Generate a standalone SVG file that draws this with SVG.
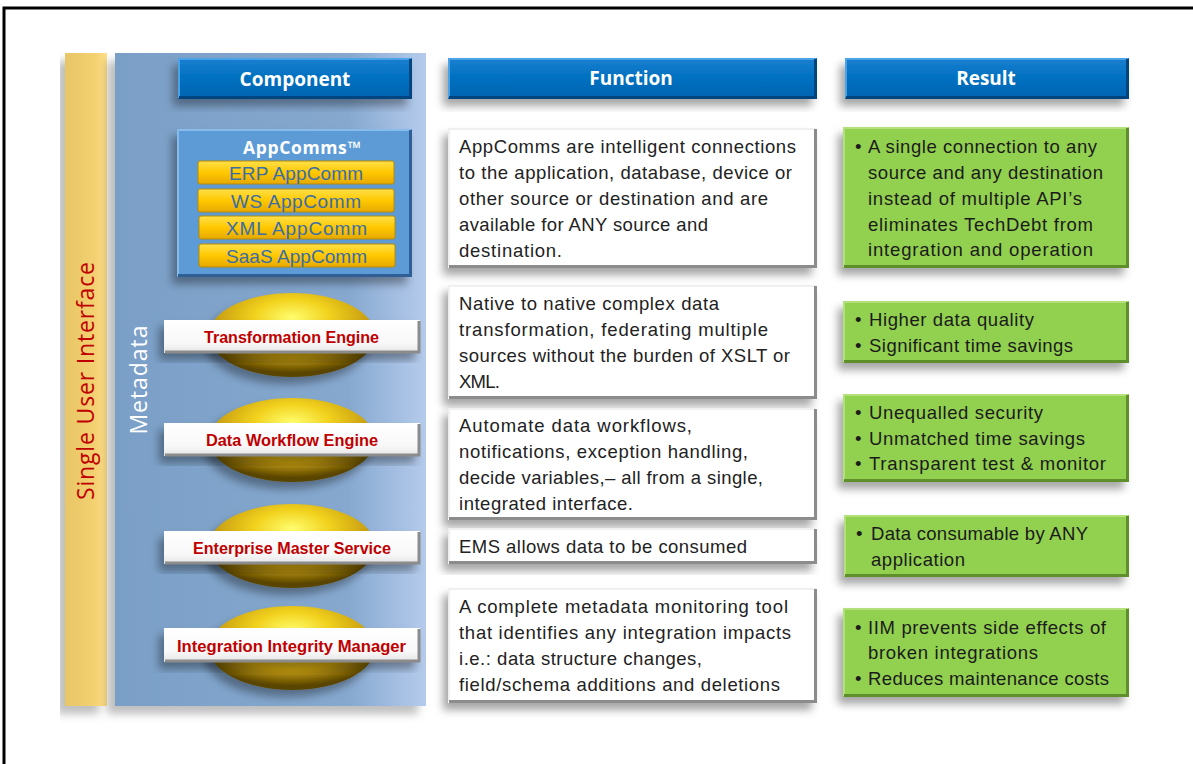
<svg xmlns="http://www.w3.org/2000/svg" width="1193" height="764" viewBox="0 0 1193 764">
<defs>
<filter id="sh" x="-20%" y="-20%" width="140%" height="150%">
<feDropShadow dx="-5" dy="7" stdDeviation="4" flood-color="#000" flood-opacity="0.35"/>
</filter>
<filter id="sh2" x="-10%" y="-10%" width="120%" height="120%">
<feDropShadow dx="-8" dy="8" stdDeviation="4" flood-color="#000" flood-opacity="0.25"/>
</filter>
<linearGradient id="gYel" x1="0" y1="0" x2="1" y2="0">
<stop offset="0" stop-color="#e8c566"/><stop offset="0.7" stop-color="#f3d070"/><stop offset="1" stop-color="#ffe08a"/>
</linearGradient>
<linearGradient id="gMeta" x1="0" y1="0" x2="1" y2="0">
<stop offset="0" stop-color="#7a9fc6"/><stop offset="0.75" stop-color="#86a8cf"/><stop offset="1" stop-color="#b5cbec"/>
</linearGradient>
<linearGradient id="gHead" x1="0" y1="0" x2="0" y2="1">
<stop offset="0" stop-color="#1a7fd0"/><stop offset="0.5" stop-color="#0070c0"/><stop offset="1" stop-color="#0064b0"/>
</linearGradient>
<linearGradient id="gBar" x1="0" y1="0" x2="0" y2="1">
<stop offset="0" stop-color="#ffe04a"/><stop offset="0.5" stop-color="#ffc800"/><stop offset="1" stop-color="#e6a800"/>
</linearGradient>
<linearGradient id="gLbl" x1="0" y1="0" x2="0" y2="1">
<stop offset="0" stop-color="#ffffff"/><stop offset="0.7" stop-color="#f8f8f8"/><stop offset="1" stop-color="#e4e4e4"/>
</linearGradient>
<radialGradient id="gDisc" cx="0.5" cy="0.3" r="0.65">
<stop offset="0" stop-color="#ffff70"/><stop offset="0.35" stop-color="#f2d21e"/><stop offset="0.7" stop-color="#c9a010"/><stop offset="1" stop-color="#5a4500"/>
</radialGradient>
<style>
.hdr{font-family:"Open Sans","Liberation Sans",sans-serif;font-weight:bold;font-size:19px;fill:#fff;text-anchor:middle}
.body{font-family:"Liberation Sans",Arial,sans-serif;font-size:18.5px;fill:#222}
.res{font-family:"Liberation Sans",Arial,sans-serif;font-size:18.5px;fill:#1b1b1b}
.lbl{font-family:"Liberation Sans",Arial,sans-serif;font-weight:bold;font-size:16px;fill:#c00000}
.ac{font-family:"Liberation Sans",Arial,sans-serif;font-size:19px;fill:#3a6ea8}
.white{fill:#fff;filter:url(#sh)}
.green{fill:#92d050;filter:url(#sh)}
.wtop{fill:none;stroke:#f0f0f0;stroke-width:2}
.wbot{fill:none;stroke:#8c8c8c;stroke-width:3}
.gtop{fill:none;stroke:#b4e07c;stroke-width:2}
.gbot{fill:none;stroke:#5f8f2a;stroke-width:3}
.htop{fill:none;stroke:#4aa3e6;stroke-width:2}
.hbot{fill:none;stroke:#00457f;stroke-width:3}
</style>
</defs>
<rect x="0" y="0" width="1193" height="764" fill="#fff"/>
<path d="M4,764 V8 H1193" fill="none" stroke="#000" stroke-width="3"/>

<g id="single-user-interface">
<rect x="65" y="53" width="42" height="653" fill="url(#gYel)" filter="url(#sh2)"/>
<text transform="translate(94,381) rotate(-90)" font-family="'Open Sans','Liberation Sans',sans-serif" font-size="23" fill="#c00000" text-anchor="middle" textLength="238">Single User Interface</text>
</g>

<g id="metadata">
<rect x="115" y="53" width="311" height="653" fill="url(#gMeta)" filter="url(#sh2)"/>
<text transform="translate(147,380) rotate(-90)" font-family="'Open Sans','Liberation Sans',sans-serif" font-size="23" fill="#fff" text-anchor="middle" textLength="109">Metadata</text>
</g>

<g id="hdr-component">
<rect x="178" y="58" width="234" height="41" fill="url(#gHead)" filter="url(#sh)"/>
<polyline class="htop" points="179,98 179,59 411,59"/><polyline class="hbot" points="179,97.5 410.5,97.5 410.5,59"/>
<text class="hdr" x="295" y="86">Component</text>
</g>
<g id="hdr-function">
<rect x="448" y="58" width="369" height="41" fill="url(#gHead)" filter="url(#sh)"/>
<polyline class="htop" points="449,98 449,59 816,59"/><polyline class="hbot" points="449,97.5 815.5,97.5 815.5,59"/>
<text class="hdr" x="631" y="85">Function</text>
</g>
<g id="hdr-result">
<rect x="845" y="58" width="284" height="41" fill="url(#gHead)" filter="url(#sh)"/>
<polyline class="htop" points="846,98 846,59 1128,59"/><polyline class="hbot" points="846,97.5 1127.5,97.5 1127.5,59"/>
<text class="hdr" x="986" y="85">Result</text>
</g>

<g id="appcomms">
<rect x="177" y="129" width="235" height="148" fill="#5b9bd5" filter="url(#sh)"/>
<polyline points="178,276 178,130 411,130" fill="none" stroke="#86bbec" stroke-width="2"/>
<polyline points="178,275.5 410.5,275.5 410.5,130" fill="none" stroke="#2f5f96" stroke-width="3"/>
<text x="243" y="154" font-family="'Open Sans','Liberation Sans',sans-serif" font-weight="bold" font-size="17.5" fill="#fff" textLength="118">AppComms™</text>
<g>
<rect x="198" y="161" width="196" height="23" rx="2" fill="url(#gBar)" stroke="#b88a00" stroke-width="1"/>
<text class="ac" x="229" y="179.5" textLength="134">ERP  AppComm</text>
<rect x="198" y="189" width="196" height="23" rx="2" fill="url(#gBar)" stroke="#b88a00" stroke-width="1"/>
<text class="ac" x="231" y="207.5" textLength="130">WS  AppComm</text>
<rect x="199" y="216" width="196" height="23" rx="2" fill="url(#gBar)" stroke="#b88a00" stroke-width="1"/>
<text class="ac" x="226" y="234.5" textLength="141">XML  AppComm</text>
<rect x="199" y="244" width="196" height="23" rx="2" fill="url(#gBar)" stroke="#b88a00" stroke-width="1"/>
<text class="ac" x="226" y="262.5" textLength="141">SaaS  AppComm</text>
</g>
</g>

<g id="transformation-engine">
<ellipse cx="292" cy="335" rx="83" ry="42" fill="url(#gDisc)" filter="url(#sh)"/>
<rect x="164" y="320" width="256" height="33" fill="url(#gLbl)" filter="url(#sh)"/>
<polyline class="wbot" points="165,352 419,352 419,321"/>
<text class="lbl" x="204" y="343" textLength="175" lengthAdjust="spacingAndGlyphs">Transformation Engine</text>
</g>
<g id="data-workflow-engine">
<ellipse cx="292" cy="440" rx="83" ry="42" fill="url(#gDisc)" filter="url(#sh)"/>
<rect x="164" y="423" width="256" height="33" fill="url(#gLbl)" filter="url(#sh)"/>
<polyline class="wbot" points="165,455 419,455 419,424"/>
<text class="lbl" x="206" y="446" textLength="172" lengthAdjust="spacingAndGlyphs">Data Workflow Engine</text>
</g>
<g id="enterprise-master-service">
<ellipse cx="292" cy="546" rx="83" ry="42" fill="url(#gDisc)" filter="url(#sh)"/>
<rect x="164" y="531" width="256" height="33" fill="url(#gLbl)" filter="url(#sh)"/>
<polyline class="wbot" points="165,563 419,563 419,532"/>
<text class="lbl" x="193" y="554" textLength="198" lengthAdjust="spacingAndGlyphs">Enterprise Master Service</text>
</g>
<g id="integration-integrity-manager">
<ellipse cx="292" cy="648" rx="83" ry="42" fill="url(#gDisc)" filter="url(#sh)"/>
<rect x="164" y="628" width="256" height="34" fill="url(#gLbl)" filter="url(#sh)"/>
<polyline class="wbot" points="165,661 419,661 419,629"/>
<text class="lbl" x="177" y="652" textLength="229" lengthAdjust="spacingAndGlyphs">Integration Integrity Manager</text>
</g>

<g id="fn-appcomms">
<rect class="white" x="448" y="128" width="369" height="140"/>
<polyline class="wtop" points="449,267 449,129 816,129"/><polyline class="wbot" points="449,266.5 815.5,266.5 815.5,129"/>
<text class="body" x="459" y="153" textLength="337">AppComms are intelligent  connections</text>
<text class="body" x="459" y="179" textLength="333">to the application, database, device or</text>
<text class="body" x="459" y="205" textLength="309">other source or destination and are</text>
<text class="body" x="459" y="231" textLength="249">available for ANY source and</text>
<text class="body" x="459" y="257" textLength="103">destination.</text>
</g>
<g id="fn-transformation">
<rect class="white" x="448" y="285" width="369" height="114"/>
<polyline class="wtop" points="449,398 449,286 816,286"/><polyline class="wbot" points="449,397.5 815.5,397.5 815.5,286"/>
<text class="body" x="459" y="310" textLength="260">Native to native complex data</text>
<text class="body" x="459" y="336" textLength="309">transformation, federating multiple</text>
<text class="body" x="459" y="362" textLength="331">sources without the  burden of XSLT or</text>
<text class="body" x="459" y="388" textLength="41">XML.</text>
</g>
<g id="fn-workflow">
<rect class="white" x="448" y="408" width="369" height="112"/>
<polyline class="wtop" points="449,519 449,409 816,409"/><polyline class="wbot" points="449,518.5 815.5,518.5 815.5,409"/>
<text class="body" x="459" y="432" textLength="233">Automate data workflows,</text>
<text class="body" x="459" y="458" textLength="289">notifications, exception  handling,</text>
<text class="body" x="459" y="484" textLength="304">decide variables,– all from a single,</text>
<text class="body" x="459" y="510" textLength="174">integrated interface.</text>
</g>
<g id="fn-ems">
<rect class="white" x="448" y="528" width="369" height="36"/>
<polyline class="wtop" points="449,563 449,529 816,529"/><polyline class="wbot" points="449,562.5 815.5,562.5 815.5,529"/>
<text class="body" x="459" y="553" textLength="288">EMS allows data to be consumed</text>
</g>
<g id="fn-iim">
<rect class="white" x="448" y="588" width="369" height="115"/>
<polyline class="wtop" points="449,702 449,589 816,589"/><polyline class="wbot" points="449,701.5 815.5,701.5 815.5,589"/>
<text class="body" x="459" y="613" textLength="329">A complete metadata monitoring tool</text>
<text class="body" x="459" y="639" textLength="332">that identifies  any integration impacts</text>
<text class="body" x="459" y="665" textLength="243">i.e.: data structure changes,</text>
<text class="body" x="459" y="691" textLength="321">field/schema additions and deletions</text>
</g>

<g id="res-appcomms">
<rect class="green" x="843" y="127" width="286" height="141"/>
<polyline class="gtop" points="844,267 844,128 1128,128"/><polyline class="gbot" points="844,266.5 1127.5,266.5 1127.5,128"/>
<text class="res" x="855" y="153">•</text>
<text class="res" x="868" y="153" textLength="229">A single connection to any</text>
<text class="res" x="868" y="179" textLength="235">source and any destination</text>
<text class="res" x="868" y="205" textLength="214">instead of multiple  API’s</text>
<text class="res" x="868" y="231" textLength="225">eliminates TechDebt from</text>
<text class="res" x="868" y="256" textLength="225">integration and operation</text>
</g>
<g id="res-transformation">
<rect class="green" x="843" y="301" width="286" height="62"/>
<polyline class="gtop" points="844,362 844,302 1128,302"/><polyline class="gbot" points="844,361.5 1127.5,361.5 1127.5,302"/>
<text class="res" x="855" y="326">•</text>
<text class="res" x="869" y="326" textLength="165">Higher data quality</text>
<text class="res" x="855" y="352">•</text>
<text class="res" x="869" y="352" textLength="204">Significant time savings</text>
</g>
<g id="res-workflow">
<rect class="green" x="843" y="394" width="286" height="88"/>
<polyline class="gtop" points="844,481 844,395 1128,395"/><polyline class="gbot" points="844,480.5 1127.5,480.5 1127.5,395"/>
<text class="res" x="855" y="419">•</text>
<text class="res" x="869" y="419" textLength="174">Unequalled  security</text>
<text class="res" x="855" y="445">•</text>
<text class="res" x="869" y="445" textLength="216">Unmatched time savings</text>
<text class="res" x="855" y="470">•</text>
<text class="res" x="869" y="470" textLength="237">Transparent test &amp; monitor</text>
</g>
<g id="res-ems">
<rect class="green" x="844" y="515" width="285" height="62"/>
<polyline class="gtop" points="845,576 845,516 1128,516"/><polyline class="gbot" points="845,575.5 1127.5,575.5 1127.5,516"/>
<text class="res" x="856" y="540">•</text>
<text class="res" x="871" y="540" textLength="217">Data consumable by ANY</text>
<text class="res" x="871" y="566" textLength="94">application</text>
</g>
<g id="res-iim">
<rect class="green" x="843" y="608" width="286" height="89"/>
<polyline class="gtop" points="844,696 844,609 1128,609"/><polyline class="gbot" points="844,695.5 1127.5,695.5 1127.5,609"/>
<text class="res" x="855" y="634">•</text>
<text class="res" x="868" y="634" textLength="238">IIM prevents side effects of</text>
<text class="res" x="868" y="659" textLength="170">broken integrations</text>
<text class="res" x="855" y="685">•</text>
<text class="res" x="868" y="685" textLength="241">Reduces maintenance costs</text>
</g>

<g id="connectors"></g>
</svg>
